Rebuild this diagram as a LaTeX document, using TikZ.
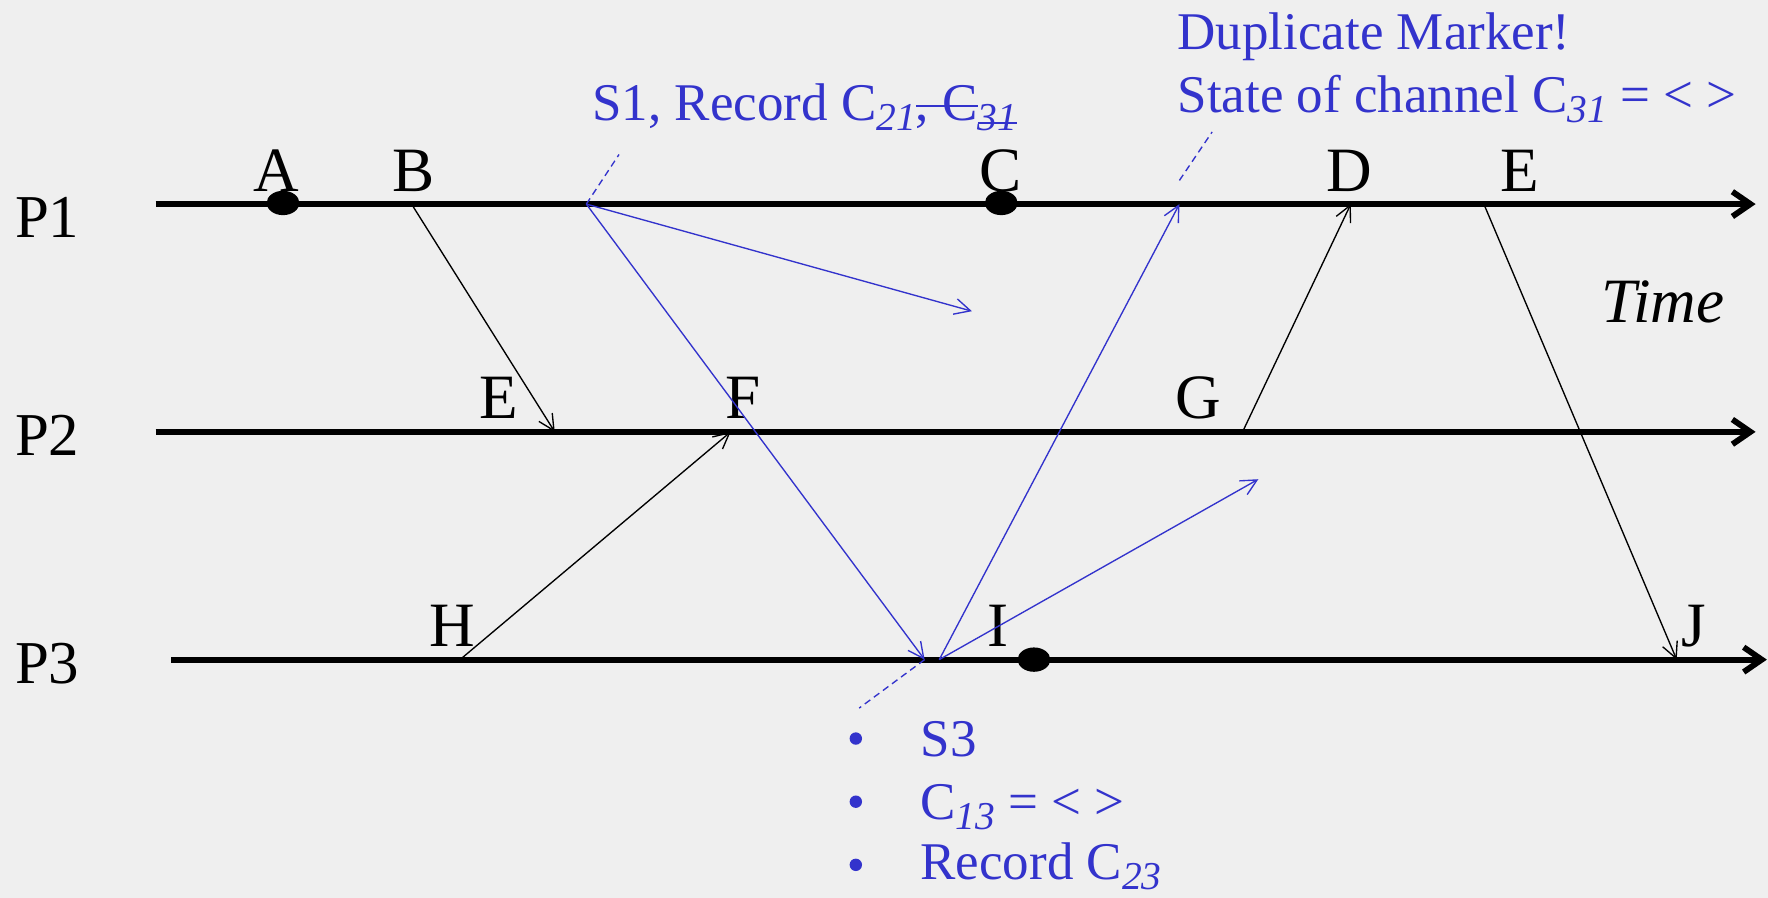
\documentclass[tikz,border=0pt]{standalone}
\usepackage{fontspec}
\setmainfont{Liberation Serif}
\usetikzlibrary{arrows.meta,shapes.geometric}
\definecolor{bg}{RGB}{239,239,239}
\definecolor{mblue}{RGB}{51,51,204}
\newcommand\strk[2]{\setbox0\hbox{#2}\rlap{\rule[#1]{\wd0}{0.05em}}\box0}
\newcommand\sbi[1]{\raisebox{-4.5pt}{\fontsize{17.5}{18}\selectfont\itshape #1}}
\begin{document}
\begin{tikzpicture}[x=0.5pt,y=-0.5pt,
  proc/.style={line width=2.6pt,-{Straight Barb[length=8pt,width=11pt,line width=2.6pt]}},
  msg/.style={line width=0.6pt,-{Straight Barb[length=7pt,width=7pt,line width=0.6pt]}},
  bmsg/.style={msg,draw=mblue},
  mdash/.style={draw=mblue,line width=0.6pt,dash pattern=on 3pt off 2pt},
  plab/.style={font=\fontsize{27}{29}\selectfont,anchor=base west,inner sep=0pt},
  elab/.style={font=\fontsize{28}{30}\selectfont,anchor=base,inner sep=0pt},
  btxt/.style={font=\fontsize{23.5}{25}\selectfont,text=mblue,anchor=base west,inner sep=0pt},
  evdot/.style={fill=black,ellipse,minimum width=14.5pt,minimum height=10.8pt,inner sep=0pt},
  bul/.style={fill=mblue,circle,minimum size=5.5pt,inner sep=0pt}]
\useasboundingbox[fill=bg] (0,0) rectangle (1568,796);
% process lines
\coordinate (p1s) at (138,181); \coordinate (p1e) at (1557,181);
\coordinate (p2s) at (138,383); \coordinate (p2e) at (1557,383);
\coordinate (p3s) at (152,585); \coordinate (p3e) at (1567,585);
\draw[proc] (p1s) -- (p1e);
\draw[proc] (p2s) -- (p2e);
\draw[proc] (p3s) -- (p3e);
\node[plab] (P1) at (13,211) {P1};
\node[plab] (P2) at (13,404) {P2};
\node[plab] (P3) at (13,606) {P3};
% events
\node[evdot] (a) at (251,180) {};
\coordinate (b) at (365,181);
\coordinate (s1) at (520,181);
\node[evdot] (c) at (888,180) {};
\coordinate (dm) at (1046,181);
\coordinate (d) at (1198,181);
\coordinate (e1) at (1316,181);
\coordinate (e2) at (492,383);
\coordinate (f) at (648,383);
\coordinate (g) at (1102,383);
\coordinate (h) at (408,585);
\coordinate (s3) at (820,585);
\coordinate (s3b) at (833,585);
\node[evdot] (i) at (917,585) {};
\coordinate (j) at (1487,585);
\coordinate (m1) at (862,276);
\coordinate (m3) at (1116,425);
% labels
\node[elab] (lA) at (245,170) {A};
\node[elab] (lB) at (367,170) {B};
\node[elab] (lC) at (887,170) {C};
\node[elab] (lD) at (1197,170) {D};
\node[elab] (lE) at (1348,170) {E};
\node[elab] (lE2) at (442,371) {E};
\node[elab] (lF) at (659,371) {F};
\node[elab] (lG) at (1063,371) {G};
\node[elab] (lH) at (401,573) {H};
\node[elab] (lI) at (885,573) {I};
\node[elab] (lJ) at (1502,573) {J};
\node[font=\fontsize{28}{30}\selectfont\itshape,anchor=base,inner sep=0pt] (time) at (1475,286) {Time};
% black messages
\draw[msg] (b) -- (e2);
\draw[msg] (h) -- (f);
\draw[msg] (g) -- (d);
\draw[msg] (e1) -- (j);
% blue markers
\draw[bmsg] (s1) -- (m1);
\draw[bmsg] (s1) -- (s3);
\draw[bmsg] (s3b) -- (dm);
\draw[bmsg] (s3b) -- (m3);
\coordinate (d1) at (549,137);
\coordinate (d2a) at (1046,160); \coordinate (d2b) at (1075,117);
\coordinate (d3) at (762,628);
\draw[mdash] (s1) -- (d1);
\draw[mdash] (d2a) -- (d2b);
\draw[mdash] (s3) -- (d3);
% blue texts
\node[btxt] (t1) at (525,107) {S1, Record C\sbi{21}\strk{0.25em}{, C}\strk{-0.07em}{\sbi{31}}};
\node[btxt] (t2) at (1044,44) {Duplicate Marker!};
\node[btxt] (t3) at (1044,100) {State of channel C\sbi{31} = < >};
\node[bul] (b1) at (759,655) {};
\node[bul] (b2) at (759,711) {};
\node[bul] (b3) at (759,767) {};
\node[btxt] (t4) at (816,671) {S3};
\node[btxt] (t5) at (816,727) {C\sbi{13} = < >};
\node[btxt] (t6) at (816,780) {Record C\sbi{23}};
\end{tikzpicture}
\end{document}
